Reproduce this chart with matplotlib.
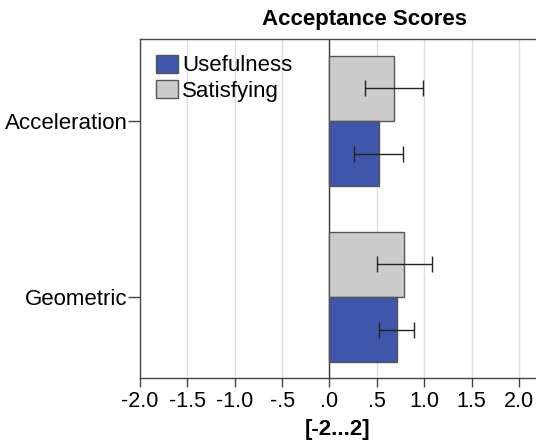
import numpy as np
import matplotlib.pyplot as plt
from matplotlib.patches import Patch

plt.rcParams['font.family'] = ['Liberation Sans', 'DejaVu Sans']

# mean scores and error half-widths per condition
conditions = ['Acceleration', 'Geometric']
usefulness = [0.52, 0.71]
usefulness_err = [0.26, 0.185]
satisfying = [0.68, 0.79]
satisfying_err = [0.31, 0.29]

xticks = [-2.0, -1.5, -1.0, -0.5, 0.0, 0.5, 1.0, 1.5, 2.0]
xtick_labels = ['-2.0', '-1.5', '-1.0', '-.5', '.0', '.5', '1.0', '1.5', '2.0']

blue = '#3f56aa'
grey = '#cccccc'
edge = '#555555'

fig = plt.figure(figsize=(5.36, 4.48), dpi=100)
ax = fig.add_axes([140 / 536, 1 - 378 / 448, 1 - 140 / 536, (378 - 39) / 448])

y = np.arange(len(conditions))
h = 0.37

ax.barh(y - h / 2, satisfying, height=h, color=grey, edgecolor=edge, lw=1, zorder=3)
ax.barh(y + h / 2, usefulness, height=h, color=blue, edgecolor=edge, lw=1, zorder=3)
ax.errorbar(satisfying, y - h / 2, xerr=satisfying_err, fmt='none', ecolor='#222222',
            elinewidth=1, capsize=6, capthick=1, zorder=4)
ax.errorbar(usefulness, y + h / 2, xerr=usefulness_err, fmt='none', ecolor='#222222',
            elinewidth=1, capsize=6, capthick=1, zorder=4)

ax.set_xlim(-2.0, 2.18)
ax.set_ylim(1.46, -0.466)
ax.set_xticks(xticks)
ax.set_xticklabels(xtick_labels)
ax.set_yticks(y)
ax.set_yticklabels(conditions)
ax.tick_params(axis='x', labelsize=15.5, length=6.5, width=1, color='#444444', pad=3)
ax.tick_params(axis='y', labelsize=16, length=9, width=1, color='#444444', pad=0)

for xv in xticks:
    if xv != 0:
        ax.axvline(xv, color='#dddddd', lw=1, zorder=1)
ax.axvline(0, color='#333333', lw=1, zorder=2)

for side in ['left', 'bottom', 'top']:
    ax.spines[side].set_color('#444444')
    ax.spines[side].set_linewidth(1)
ax.spines['right'].set_visible(False)

ax.set_xlabel('[-2...2]', fontsize=16, fontweight='bold', labelpad=5)
fig.text(364 / 536, 1 - 20 / 448, 'Acceptance Scores', fontsize=16, fontweight='bold',
         ha='center', va='center')

handles = [Patch(facecolor=blue, edgecolor=edge, label='Usefulness'),
           Patch(facecolor=grey, edgecolor=edge, label='Satisfying')]
ax.legend(handles=handles, loc='upper left', frameon=False, fontsize=16,
          handlelength=1.0, handleheight=0.9, handletextpad=0.2,
          labelspacing=0.15, borderaxespad=0.5, borderpad=0.2)

fig.savefig('out.png', dpi=100)
